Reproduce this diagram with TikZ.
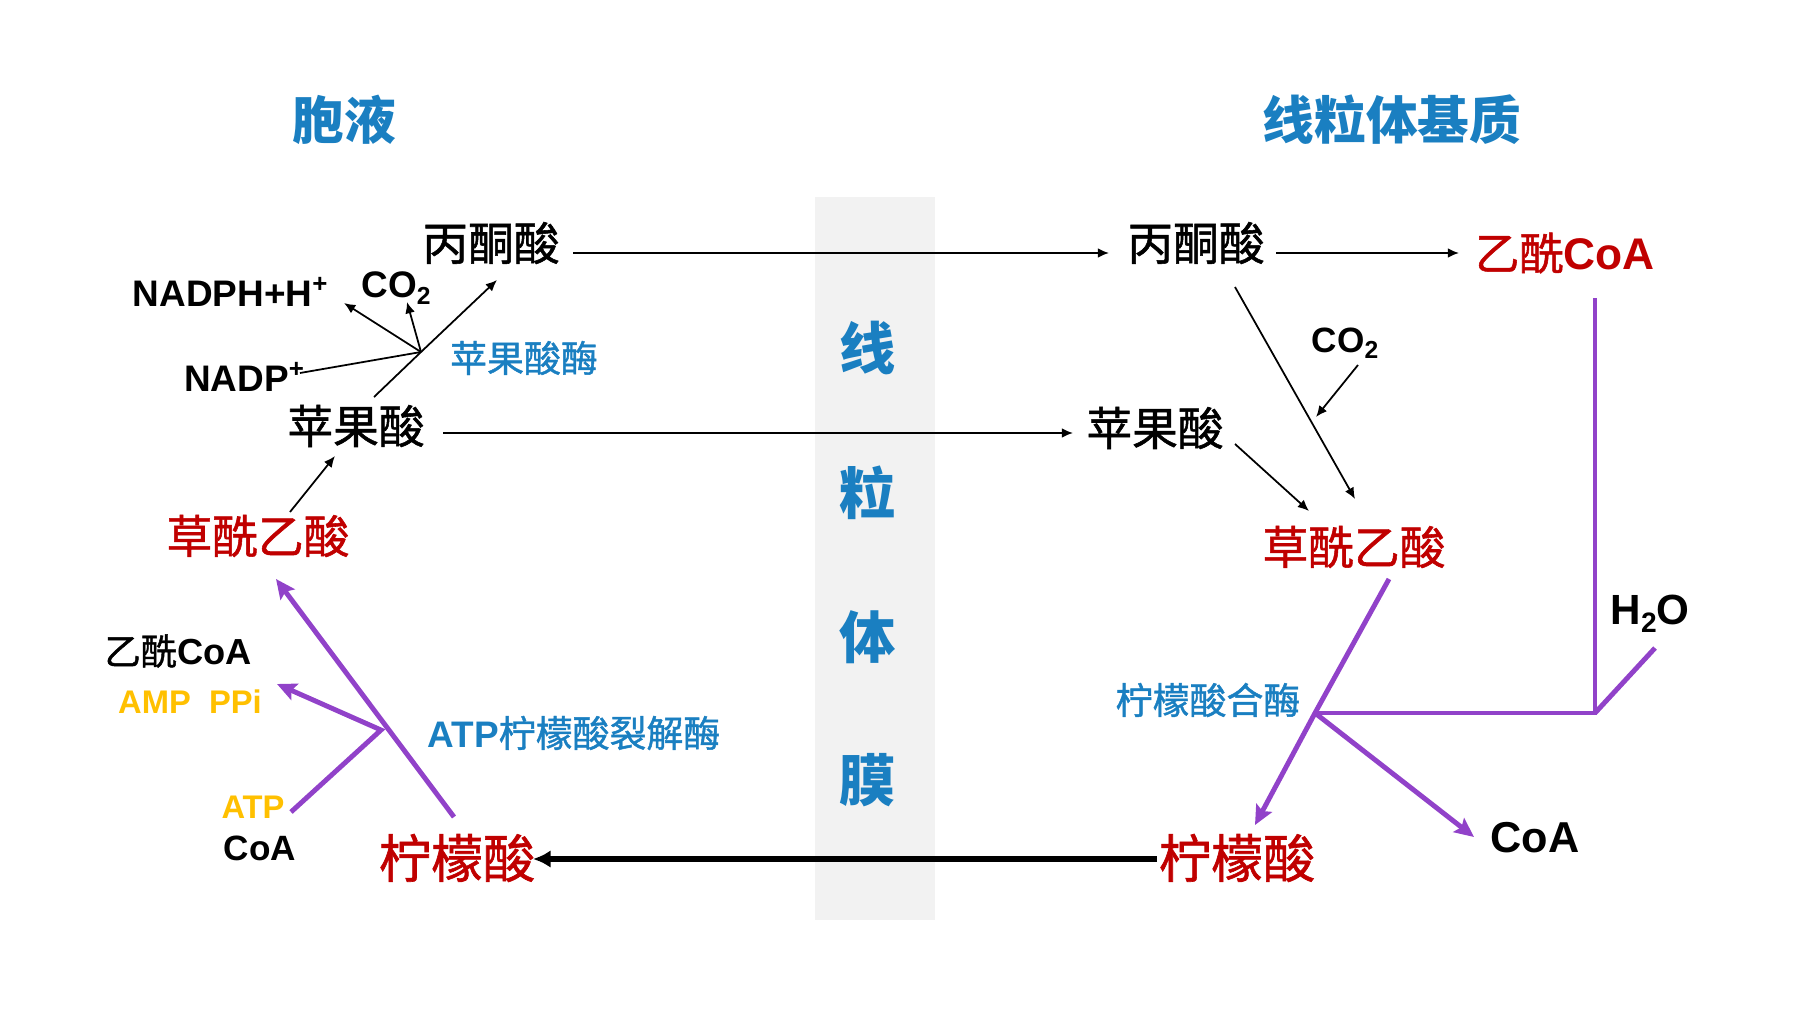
\documentclass[tikz,border=0pt]{standalone}
\usepackage{fontspec}
\setmainfont{Liberation Sans}
\newfontfamily\zhfont[FakeBold=1.2]{Noto Sans CJK SC}
\newfontfamily\zhhead{Noto Sans CJK SC}
\usepackage{xcolor}
\usepackage{tikz}
\usetikzlibrary{arrows.meta,calc,positioning}
\definecolor{headblue}{HTML}{1A7FC1}
\definecolor{keyred}{HTML}{C00000}
\definecolor{pathpurple}{HTML}{9142C9}
\definecolor{cofacorange}{HTML}{FFC000}
\definecolor{membgray}{HTML}{F2F2F2}
\newcommand{\zh}[1]{{\zhfont #1}}
\newcommand{\fsz}[1]{\fontsize{#1}{1.2\dimexpr #1\relax}\selectfont}

\begin{document}
\begin{tikzpicture}[x=0.01cm, y=-0.01cm,
    head/.style={font=\zhhead\bfseries\fsz{14.7pt}, text=headblue},
    membtext/.style={font=\zhhead\bfseries\fsz{16pt}, text=headblue},
    metab/.style={font=\zhfont\fsz{13pt}},
    keymetab/.style={metab, text=keyred},
    enzyme/.style={font=\fsz{10.5pt}, text=headblue},
    cofac/.style={font=\bfseries\fsz{10.5pt}},
    energy/.style={font=\bfseries\fsz{9.3pt}, text=cofacorange},
    thinarrow/.style={-{Latex[length=3.2pt,width=2.8pt]}, line width=0.5pt},
    thinline/.style={line width=0.5pt},
    purparrow/.style={-{Stealth[length=5.5pt,width=5pt,inset=1pt]}, line width=1.4pt, pathpurple},
    purpline/.style={line width=1.4pt, pathpurple},
    bigarrow/.style={-{Latex[length=5pt,width=5pt]}, line width=1.5pt}]

  \useasboundingbox (0,0) rectangle (1799,1012);

  % ================= MEMBRANE =================
  \fill[membgray] (815,197) rectangle (935,920);
  \foreach \ch/\yy in {线/348, 粒/493, 体/637, 膜/780}
    \node[membtext] at (868,\yy) {\ch};

  % titles
  \node[head] (cyto) at (344,120) {胞液};
  \node[head] (matrix) at (1392,120) {线粒体基质};

  % ================= CYTOSOL =================
  \node[metab] (pyrL) at (491,243) {丙酮酸};
  \node[cofac] (nadph) at (231,292) {NADPH+H\textsuperscript{+}};
  \node[cofac] (co2L) at (396,288) {CO\raisebox{-0.35ex}{\scriptsize 2}};
  \node[cofac] (nadp) at (245,377) {NADP\textsuperscript{+}};
  \node[metab] (malL) at (356,426) {苹果酸};
  \node[enzyme] (mezyme) at (524,358) {\zh{苹果酸酶}};
  \node[keymetab] (oaaL) at (258,536) {草酰乙酸};
  \node[font=\fsz{10.3pt}] (acoaL) at (178,651) {\zh{乙酰}\textbf{CoA}};
  \node[energy] (amp) at (190,702) {AMP\ \ PPi};
  \node[energy] (atp) at (253,807) {ATP};
  \node[cofac, font=\bfseries\fsz{10pt}] (coaL) at (260,848) {CoA};
  \node[keymetab, font=\zhfont\fsz{14.8pt}] (citL) at (457,858) {柠檬酸};
  \node[enzyme] (acl) at (574,733) {\textbf{ATP}\zh{柠檬酸裂解酶}};

  % ================= MATRIX =================
  \node[metab] (pyrR) at (1196,243) {丙酮酸};
  \node[text=keyred, font=\fsz{12.6pt}] (acoaR) at (1565,253) {\zh{乙酰}\textbf{CoA}};
  \node[cofac, font=\bfseries\fsz{10pt}] (co2R) at (1345,343) {CO\raisebox{-0.35ex}{\scriptsize 2}};
  \node[metab] (malR) at (1155,428) {苹果酸};
  \node[keymetab] (oaaR) at (1354,547) {草酰乙酸};
  \node[enzyme] (cs) at (1208,700) {\zh{柠檬酸合酶}};
  \node[cofac, font=\bfseries\fsz{12pt}] (h2o) at (1650,614) {H\raisebox{-0.35ex}{\footnotesize 2}O};
  \node[cofac, font=\bfseries\fsz{12.3pt}] (coaR) at (1535,838) {CoA};
  \node[keymetab, font=\zhfont\fsz{14.8pt}] (citR) at (1237,858) {柠檬酸};

  % branch points
  \coordinate (bL) at (421,352);
  \coordinate (bA) at (381,730);
  \coordinate (bR) at (1315,713);
  \coordinate (bH) at (1595,713);

  % transport across membrane
  \draw[thinarrow] ($(pyrL)+(82,10)$) -- ($(pyrR)+(-87,10)$);
  \draw[thinarrow] ($(malL)+(87,7)$) -- ($(malR)+(-82,5)$);
  \draw[bigarrow] ($(citR)+(-80,1)$) -- ($(citL)+(76,1)$);

  % malic enzyme
  \draw[thinarrow] ($(malL)+(18,-29)$) -- (bL) -- ($(pyrL)+(6,37)$);
  \draw[thinline] ($(nadp)+(55,-4)$) -- (bL);
  \draw[thinarrow] (bL) -- ($(nadph)+(113,11)$);
  \draw[thinarrow] (bL) -- ($(co2L)+(11,14)$);
  \draw[thinarrow] ($(oaaL)+(32,-24)$) -- ($(malL)+(-21,30)$);

  % ATP citrate lyase
  \draw[purparrow] ($(citL)+(-3,-41)$) -- ($(oaaL)+(18,43)$);
  \draw[purparrow] ($(atp)+(38,5)$) -- (bA) -- ($(amp)+(87,-18)$);

  % matrix reactions
  \draw[thinarrow] ($(pyrR)+(80,10)$) -- ($(acoaR)+(-106,0)$);
  \draw[thinarrow] ($(pyrR)+(39,44)$) -- ($(oaaR)+(1,-48)$);
  \draw[thinarrow] ($(co2R)+(13,22)$) -- ($(oaaR)+(-38,-130)$);
  \draw[thinarrow] ($(malR)+(80,16)$) -- ($(oaaR)+(-45,-36)$);

  % citrate synthase
  \draw[purparrow] ($(oaaR)+(35,32)$) -- (bR) -- ($(citR)+(18,-33)$);
  \draw[purparrow] (bR) -- ($(coaR)+(-61,-1)$);
  \draw[purpline] ($(acoaR)+(30,45)$) -- (bH) -- (bR);
  \draw[purpline] ($(h2o)+(5,34)$) -- (bH);

\end{tikzpicture}
\end{document}
